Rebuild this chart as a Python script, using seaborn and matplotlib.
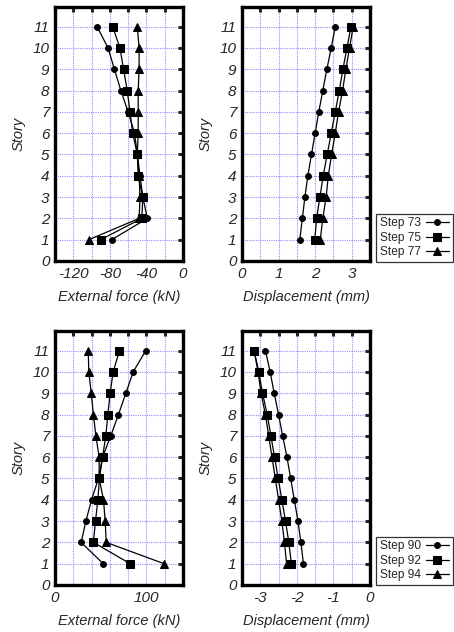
import numpy as np
import pandas as pd
import matplotlib
matplotlib.use("Agg")
import matplotlib.pyplot as plt
import seaborn as sns

# story levels
stories = [1, 2, 3, 4, 5, 6, 7, 8, 9, 10, 11]

# top row: steps 73 / 75 / 77
force_73 = [-78, -39, -44, -47, -50, -53, -60, -68, -75, -82, -94]
force_75 = [-90, -45, -44, -49, -50, -55, -58, -61, -65, -69, -77]
force_77 = [-103, -48, -47, -48, -50, -49, -49, -49, -48, -48, -50]
disp_73 = [1.58, 1.65, 1.72, 1.80, 1.90, 2.00, 2.10, 2.21, 2.32, 2.44, 2.55]
disp_75 = [1.99, 2.04, 2.13, 2.22, 2.33, 2.44, 2.55, 2.66, 2.76, 2.87, 2.98]
disp_77 = [2.14, 2.21, 2.30, 2.36, 2.45, 2.55, 2.64, 2.75, 2.84, 2.94, 3.04]

# bottom row: steps 90 / 92 / 94
force_90 = [52.7, 28.6, 33.8, 40, 47.5, 52, 61, 69.4, 77.5, 85.5, 99.3]
force_92 = [82.2, 42, 44.3, 46.9, 48.6, 52, 55.6, 57.8, 60.3, 63.6, 70.5]
force_94 = [119.3, 56, 54.9, 53, 48.3, 48.3, 44.7, 42, 39.6, 37, 36.3]
disp_90 = [-1.82, -1.89, -1.97, -2.07, -2.17, -2.27, -2.39, -2.50, -2.62, -2.73, -2.86]
disp_92 = [-2.15, -2.22, -2.31, -2.41, -2.51, -2.61, -2.71, -2.81, -2.94, -3.04, -3.17]
disp_94 = [-2.28, -2.34, -2.41, -2.50, -2.59, -2.68, -2.77, -2.86, -2.98, -3.06, -3.17]

top_steps = ["Step 73", "Step 75", "Step 77"]
bot_steps = ["Step 90", "Step 92", "Step 94"]

sns.set_style("white")
plt.rcParams["font.family"] = ["Liberation Sans", "DejaVu Sans"]

markers = ["o", "s", "^"]
msizes = [4.2, 6.2, 5.5]

W, H = 454, 632
fig = plt.figure(figsize=(W / 100, H / 100), dpi=100)


def px_axes(x0, y0, x1, y1):
    return fig.add_axes([x0 / W, 1 - y1 / H, (x1 - x0) / W, (y1 - y0) / H])


def draw_panel(ax, series, labels, xlim, xticks, xlabels, xlabel):
    for vals, lab, m, ms in zip(series, labels, markers, msizes):
        df = pd.DataFrame({"x": vals, "story": stories})
        sns.lineplot(data=df, x="x", y="story", ax=ax, sort=False, estimator=None,
                     color="black", lw=0.9, marker=m, markersize=ms,
                     markeredgecolor="black", label=lab, legend=False)
    ax.set_xlim(*xlim)
    ax.set_ylim(0, 11.92)
    ax.set_xticks(xticks)
    ax.set_xticklabels([str(t) if t in xlabels else "" for t in xticks])
    ax.set_yticks(range(0, 12))
    ax.set_yticklabels([str(i) for i in range(0, 12)])
    ax.grid(True, color="#8f8fff", linestyle=(0, (1, 1)), linewidth=0.8)
    ax.tick_params(direction="in", length=3.5, width=2.2, top=True, right=True,
                   labelsize=11, pad=4)
    for lab in ax.get_xticklabels() + ax.get_yticklabels():
        lab.set_style("italic")
    for s in ax.spines.values():
        s.set_linewidth(2.4)
        s.set_color("black")
    ax.set_xlabel(xlabel, style="italic", fontsize=10.5, labelpad=7)
    ax.set_ylabel("Story", style="italic", fontsize=10.5, labelpad=5)


ax1 = px_axes(55, 7, 183, 261)
draw_panel(ax1, [force_73, force_75, force_77], top_steps, (-140, 0),
           list(range(-140, 1, 20)), [-120, -80, -40, 0], "External force (kN)")

ax2 = px_axes(242, 7, 370, 261)
draw_panel(ax2, [disp_73, disp_75, disp_77], top_steps, (0, 3.5),
           [0, 0.5, 1, 1.5, 2, 2.5, 3, 3.5], [0, 1, 2, 3], "Displacement (mm)")

ax3 = px_axes(55, 331, 183, 585)
draw_panel(ax3, [force_90, force_92, force_94], bot_steps, (0, 140),
           list(range(0, 141, 20)), [0, 100], "External force (kN)")

ax4 = px_axes(242, 331, 370, 585)
draw_panel(ax4, [disp_90, disp_92, disp_94], bot_steps, (-3.5, 0),
           [-3.5, -3, -2.5, -2, -1.5, -1, -0.5, 0], [-3, -2, -1, 0], "Displacement (mm)")

for ax, anchor in [(ax2, (453 / W, 1 - 262 / H)), (ax4, (453 / W, 1 - 585 / H))]:
    h, l = ax.get_legend_handles_labels()
    leg = fig.legend(h, l, loc="lower right", bbox_to_anchor=anchor,
                     markerfirst=False, fontsize=8.6, frameon=True, fancybox=False,
                     shadow=False, handlelength=2.0, handletextpad=0.4,
                     labelspacing=0.22, borderpad=0.3, borderaxespad=0)
    leg.get_frame().set_edgecolor("black")
    leg.get_frame().set_linewidth(0.9)

fig.savefig("out.png", dpi=100)
